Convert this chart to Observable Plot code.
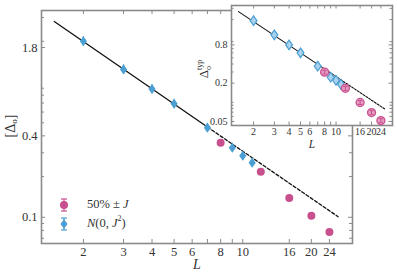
<!DOCTYPE html>
<html><head><meta charset="utf-8">
<script src="https://cdn.jsdelivr.net/npm/d3@7"></script>
<script src="https://cdn.jsdelivr.net/npm/@observablehq/plot@0.6"></script>
<style>
body{margin:0;background:#fff;}
#wrap{position:relative;width:397px;height:278px;overflow:hidden;}
#wrap svg{position:absolute;left:0;top:0;}
</style></head><body><div id="wrap"></div>
<script>
// ---- data ----
const sizesNormal = [2, 3, 4, 5, 7, 9, 10, 11];
const meanNormal = [2.0, 1.24, 0.887, 0.69, 0.46, 0.327, 0.285, 0.253];
const errNormal = [0.17, 0.1, 0.07, 0.055, 0.035, 0.025, 0.022, 0.02];
const sizesBinary = [8, 12, 16, 20, 24];
const meanBinary = [0.356, 0.217, 0.139, 0.1026, 0.078];
const typNormal = [1.92, 1.15, 0.80, 0.60, 0.37, 0.248, 0.222, 0.192];
const typBinary = [0.298, 0.166, 0.0995, 0.069, 0.0516];
const typBinaryErr = [0.02, 0.012, 0.007, 0.005, 0.0037];
const fitL = [1.49, 7, 26.2];
const fitMain = [2.80, 0.465, 0.101];
const fitInsetL = [1.49, 7, 26.3];
const fitInset = [2.67, 0.395, 0.077];
const xTicks = [2, 3, 4, 5, 6, 7, 8, 9, 10, 16, 20, 24];
const xTickLabels = [2, 3, 4, 5, 6, 8, 10, 16, 20, 24];
const mainYMajor = [1.8, 0.4, 0.1];
const mainYMinor = [0.07, 0.08, 0.09, 0.2, 0.3, 0.5, 0.6, 0.7, 0.8, 0.9, 2, 3];
const insetYMajor = [0.8, 0.2, 0.05];
const insetYMinor = [0.06, 0.07, 0.08, 0.09, 0.1, 0.3, 0.4, 0.5, 0.6, 0.7, 0.9, 2, 3];
const legendLabels = ["50% ± ", "N(0, J²)"];

// ---- styles ----
const FONT = "'Liberation Serif', 'DejaVu Serif', serif";
const PINK = "#c9508f", BLUE = "#4b9fd3", AX = "#8a8a8a", TXT = "#333";
const PINK_L = "#e49cc2", BLUE_L = "#a9d2ee";

const thinDiamond = {draw(ctx, size) {
  const r = Math.sqrt(size / Math.PI), h = r * 1.2, w = r * 0.85;
  ctx.moveTo(0, -h); ctx.lineTo(w, 0); ctx.lineTo(0, h); ctx.lineTo(-w, 0); ctx.closePath();
}};
const hline = {draw(ctx, size) {
  const r = Math.sqrt(size / Math.PI);
  ctx.moveTo(-r, 0); ctx.lineTo(r, 0);
}};

const normal = sizesNormal.map((L, i) => ({L, v: meanNormal[i], e: errNormal[i]}));
const binary = sizesBinary.map((L, i) => ({L, v: meanBinary[i]}));
const normalT = sizesNormal.map((L, i) => ({L, v: typNormal[i]}));
const binaryT = sizesBinary.map((L, i) => ({L, v: typBinary[i], e: typBinaryErr[i]}));
const fitA = fitL.map((L, i) => ({L, v: fitMain[i]}));
const fitB = fitInsetL.map((L, i) => ({L, v: fitInset[i]}));

function tickMarks(fw, fh, xs, ysMaj, ysMin, len, lenMin) {
  const o = {stroke: AX, strokeWidth: 1};
  return [
    Plot.tickX(xs, {x: d => d, insetTop: fh - len, ...o}),
    Plot.tickX(xs, {x: d => d, insetBottom: fh - len, ...o}),
    Plot.tickY(ysMaj, {y: d => d, insetRight: fw - len, ...o}),
    Plot.tickY(ysMaj, {y: d => d, insetLeft: fw - len, ...o}),
    Plot.tickY(ysMin, {y: d => d, insetRight: fw - lenMin, ...o}),
    Plot.tickY(ysMin, {y: d => d, insetLeft: fw - lenMin, ...o})
  ];
}
function tickLabels(xs, ys, dyX, dxY) {
  return [
    Plot.text(xs, {x: d => d, frameAnchor: "bottom", lineAnchor: "top", dy: dyX, text: d => String(d), fill: TXT}),
    Plot.text(ys, {y: d => d, frameAnchor: "left", textAnchor: "end", dx: dxY, text: d => String(d), fill: TXT})
  ];
}

// ---- main chart ----
const main = Plot.plot({
  width: 397, height: 278,
  marginLeft: 41, marginRight: 45, marginTop: 10, marginBottom: 35,
  style: {fontFamily: FONT, fontSize: "12.5px", color: TXT, background: "transparent", overflow: "visible"},
  x: {type: "log", domain: [1.31, 30.3], label: null, axis: null},
  y: {type: "log", domain: [0.064, 3.38], label: null, axis: null},
  marks: [
    Plot.frame({stroke: AX, strokeWidth: 1.6}),
    ...tickMarks(311, 233, xTicks, mainYMajor, mainYMinor, 4, 3),
    ...tickLabels(xTickLabels, mainYMajor, 4, -4),
    Plot.line(fitA.slice(0, 2), {x: "L", y: "v", stroke: "#111", strokeWidth: 1.3}),
    Plot.line(fitA.slice(1), {x: "L", y: "v", stroke: "#111", strokeWidth: 1.3, strokeDasharray: "3.2,2"}),
    Plot.ruleX(normal, {x: "L", y1: d => d.v - d.e, y2: d => d.v + d.e, stroke: BLUE, strokeWidth: 1.2}),
    Plot.dot(normal, {x: "L", y: "v", symbol: thinDiamond, r: 4.2, fill: BLUE}),
    Plot.dot(binary, {x: "L", y: "v", r: 4, fill: PINK}),
    Plot.text(["L"], {frameAnchor: "bottom", dy: 25, fontStyle: "italic", fontSize: 14, fill: TXT})
  ]
});

// ---- inset ----
const inset = Plot.plot({
  width: 397, height: 278,
  marginLeft: 231, marginRight: 5, marginTop: 5, marginBottom: 153,
  style: {fontFamily: FONT, fontSize: "10px", color: TXT, background: "transparent", overflow: "visible"},
  x: {type: "log", domain: [1.30, 30.1], label: null, axis: null},
  y: {type: "log", domain: [0.0432, 3.33], label: null, axis: null},
  marks: [
    Plot.frame({fill: "white", stroke: AX, strokeWidth: 1.6}),
    ...tickMarks(161, 120, xTicks, insetYMajor, insetYMinor, 3.5, 2.5),
    ...tickLabels(xTickLabels, insetYMajor, 2.5, -4),
    Plot.line(fitB.slice(0, 2), {x: "L", y: "v", stroke: "#111", strokeWidth: 1.1}),
    Plot.line(fitB.slice(1), {x: "L", y: "v", stroke: "#111", strokeWidth: 1.1, strokeDasharray: "2,1.4"}),
    Plot.dot(normalT, {x: "L", y: "v", symbol: thinDiamond, r: 4, fill: BLUE_L, stroke: BLUE, strokeWidth: 1.2}),
    Plot.dot(binaryT, {x: "L", y: "v", r: 4, fill: PINK_L, stroke: PINK, strokeWidth: 1.3}),
    Plot.ruleX(binaryT, {x: "L", y1: d => d.v - d.e, y2: d => d.v + d.e, stroke: PINK, strokeWidth: 1}),
    Plot.dot(binaryT, {x: "L", y: d => d.v - d.e, symbol: hline, r: 2.2, stroke: PINK, strokeWidth: 1}),
    Plot.dot(binaryT, {x: "L", y: d => d.v + d.e, symbol: hline, r: 2.2, stroke: PINK, strokeWidth: 1}),
    Plot.text(["L"], {frameAnchor: "bottom", dy: 22.5, fontStyle: "italic", fontSize: 11.5, fill: TXT})
  ]
});

const wrap = document.getElementById("wrap");
wrap.appendChild(main);
wrap.appendChild(inset);

// ---- axis titles with sub/superscripts ----
const ms = d3.select(main);
const yl = ms.append("text").attr("transform", "translate(12,126) rotate(-90)")
  .attr("text-anchor", "middle").attr("dominant-baseline", "middle")
  .attr("font-family", FONT).attr("font-size", 14).attr("fill", TXT);
yl.append("tspan").text("[Δ");
yl.append("tspan").attr("font-size", 9).attr("dy", 3).text("o");
yl.append("tspan").attr("dy", -3).text("]");

const is = d3.select(inset);
const il = is.append("text").attr("transform", "translate(205,69) rotate(-90)")
  .attr("text-anchor", "middle").attr("dominant-baseline", "middle")
  .attr("font-family", FONT).attr("font-size", 13).attr("fill", TXT);
il.append("tspan").text("Δ");
il.append("tspan").attr("font-size", 8).attr("dy", 3.5).text("o");
il.append("tspan").attr("font-size", 8).attr("dx", -4).attr("dy", -9).text("typ");

// ---- legend ----
const lg = ms.append("g").attr("font-family", FONT).attr("font-size", 12.5).attr("fill", TXT).attr("text-anchor", "start");
function legendMarker(cy, color, shape) {
  lg.append("line").attr("x1", 64).attr("x2", 64).attr("y1", cy - 6).attr("y2", cy + 6).attr("stroke", color).attr("stroke-width", 1.2);
  lg.append("line").attr("x1", 61).attr("x2", 67).attr("y1", cy - 6).attr("y2", cy - 6).attr("stroke", color).attr("stroke-width", 1.2);
  lg.append("line").attr("x1", 61).attr("x2", 67).attr("y1", cy + 6).attr("y2", cy + 6).attr("stroke", color).attr("stroke-width", 1.2);
  if (shape === "circle") lg.append("circle").attr("cx", 64).attr("cy", cy).attr("r", 4).attr("fill", color);
  else lg.append("path").attr("d", `M64,${cy-5}L67.5,${cy}L64,${cy+5}L60.5,${cy}Z`).attr("fill", color);
}
legendMarker(205, PINK, "circle");
legendMarker(224, BLUE, "diamond");
const t1 = lg.append("text").attr("x", 87).attr("y", 205).attr("dominant-baseline", "middle");
t1.append("tspan").text(legendLabels[0]);
t1.append("tspan").attr("font-style", "italic").text("J");
const t2 = lg.append("text").attr("x", 87).attr("y", 224).attr("dominant-baseline", "middle");
t2.append("tspan").attr("font-style", "italic").text("N");
t2.append("tspan").text("(0, ");
t2.append("tspan").attr("font-style", "italic").text("J");
t2.append("tspan").attr("font-size", 8).attr("dy", -5).text("2");
t2.append("tspan").attr("dy", 5).text(")");
</script></body></html>
